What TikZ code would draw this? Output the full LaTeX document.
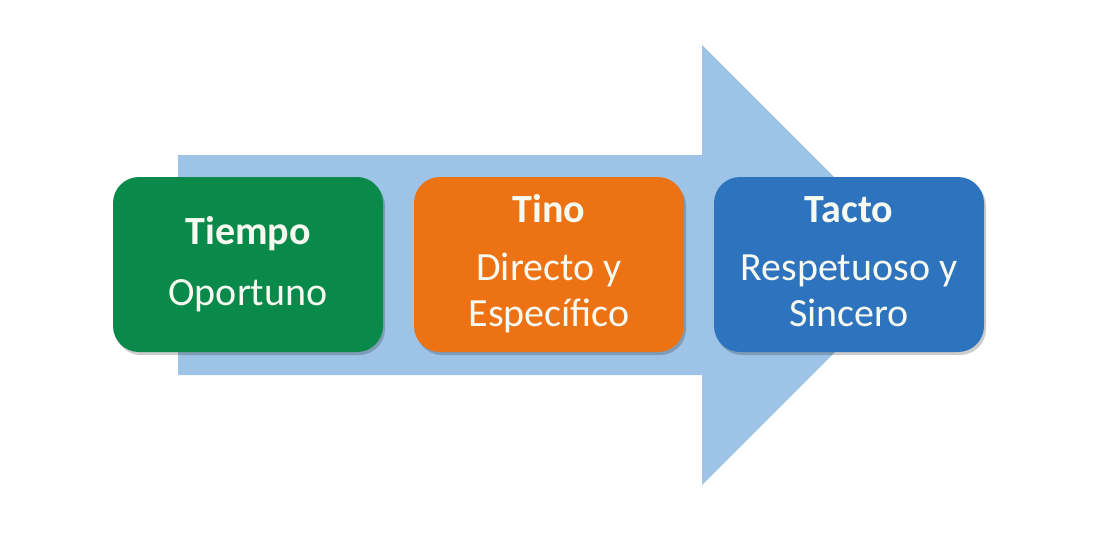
\documentclass[tikz,border=0pt]{standalone}
\usepackage{fontspec}
\setmainfont{Carlito}
\usetikzlibrary{calc,positioning,shadows}
\definecolor{arrowblue}{RGB}{157,195,230}
\definecolor{tgreen}{RGB}{10,138,74}
\definecolor{torange}{RGB}{236,114,20}
\definecolor{tblue}{RGB}{46,115,190}
\definecolor{tcream}{RGB}{246,250,240}
\tikzset{
  card/.style  = {rounded corners=26pt, minimum width=270pt, minimum height=175pt,
                  inner sep=0pt, drop shadow={shadow xshift=2pt, shadow yshift=-3pt,
                  opacity=0.2, fill=black}},
  head/.style  = {anchor=base, text=tcream, inner sep=0pt,
                  font=\fontsize{40}{48}\selectfont\bfseries},
  body/.style  = {anchor=base, text=tcream, inner sep=0pt,
                  font=\fontsize{40}{48}\selectfont},
  bigarrow/.style = {fill=arrowblue, draw=none},
}

\begin{document}
\begin{tikzpicture}[x=1pt,y=-1pt]
  \useasboundingbox[fill=white] (0,0) rectangle (1100,550);
  % the big arrow behind
  \fill[bigarrow] (178,155) -- (702,155) -- (702,45) -- (922,265)
    -- (702,485) -- (702,375) -- (178,375) -- cycle;
  % three cards
  \foreach \n/\x/\c in {tiempo/248/tgreen,tino/549/torange,tacto/849/tblue}
    {\node[card, fill=\c] (\n) at (\x,264.5) {};}
  \node[head] (tiempoH) at (248,244) {Tiempo};
  \node[body] (tiempoB) at (248,305) {Oportuno};
  \node[head] (tinoH) at (549,222) {Tino};
  \node[body] (tinoB1) at (549,280) {Directo y};
  \node[body] (tinoB2) at (549,326) {Específico};
  \node[head] (tactoH) at (849,222) {Tacto};
  \node[body] (tactoB1) at (849,280) {Respetuoso y};
  \node[body] (tactoB2) at (849,326) {Sincero};
\end{tikzpicture}
\end{document}
